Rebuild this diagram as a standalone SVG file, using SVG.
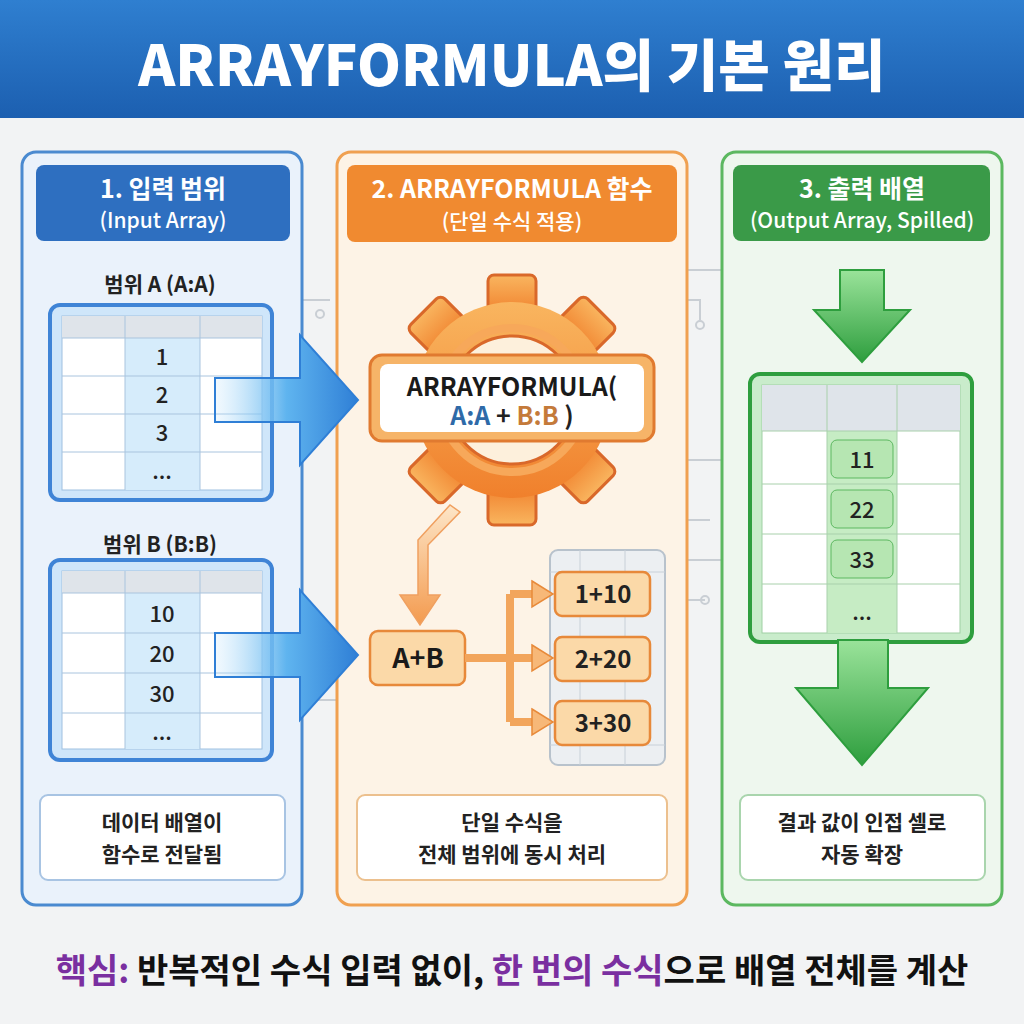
<svg xmlns="http://www.w3.org/2000/svg" width="1024" height="1024" viewBox="0 0 1024 1024">
<defs>
<linearGradient id="hdr" x1="0" y1="0" x2="0" y2="1"><stop offset="0" stop-color="#2f7fd0"/><stop offset="1" stop-color="#1c5fb0"/></linearGradient>
<linearGradient id="blueArr" x1="0" y1="0" x2="1" y2="0"><stop offset="0" stop-color="#bfe3fb" stop-opacity="0.2"/><stop offset="0.5" stop-color="#5fb4ef"/><stop offset="1" stop-color="#2f7fd6"/></linearGradient>
<linearGradient id="greenArr" x1="0" y1="0" x2="0" y2="1"><stop offset="0" stop-color="#9ae39a"/><stop offset="1" stop-color="#2e9e3e"/></linearGradient>
<linearGradient id="gearG" x1="0" y1="0" x2="0" y2="1"><stop offset="0" stop-color="#f9b55f"/><stop offset="1" stop-color="#f0802c"/></linearGradient>
<linearGradient id="orArr" x1="0" y1="0" x2="0" y2="1"><stop offset="0" stop-color="#fde6c8"/><stop offset="1" stop-color="#f39a4e"/></linearGradient>
<style>
text{font-family:"Noto Sans CJK KR","Noto Sans",sans-serif;font-weight:700;text-anchor:middle}
.hd{fill:#fff;font-size:25px}
.hs{fill:#fff;font-size:21px;font-weight:500}
.lbl{font-size:21px;fill:#222}
.cell{font-size:22px;fill:#222;font-weight:500}
.tb{fill:#fff;stroke:#c9d6e3;stroke-width:1}
.note{fill:#fff;stroke-width:2}
.ob{fill:#fbd9a8;stroke:#e7893a;stroke-width:2.5}
.ot{font-size:24px;fill:#222;font-weight:600}
.circ{stroke:#c9ced4;stroke-width:2;fill:none}
</style>
</defs>
<rect width="1024" height="1024" fill="#f2f3f4"/>
<rect width="1024" height="118" fill="url(#hdr)"/>
<text x="512" y="86" style="font-size:56px;fill:#fff;font-weight:800">ARRAYFORMULA의 기본 원리</text>

<g class="circ">
<path d="M302 300 H330 M302 400 H320 M687 270 H722 M687 300 H700 V320 M687 460 H722 M687 520 H710 M687 560 H722 M302 700 H337 M687 600 H705"/>
<circle cx="320" cy="314" r="4"/><circle cx="705" cy="600" r="4"/><circle cx="700" cy="325" r="4"/>
</g>

<g id="panel1">
<rect x="22" y="152" width="280" height="753" rx="14" fill="#eaf2fb" stroke="#4a8ad0" stroke-width="3"/>
<rect x="36" y="165" width="254" height="76" rx="8" fill="#2e6fc0"/>
<text class="hd" x="163" y="198">1. 입력 범위</text>
<text class="hs" x="163" y="228">(Input Array)</text>
<text class="lbl" x="160" y="292">범위 A (A:A)</text>
<text class="lbl" x="160" y="552">범위 B (B:B)</text>
</g>

<g id="tableA">
<rect x="50" y="305" width="222" height="195" rx="10" fill="#cfe6fa" stroke="#3f84d6" stroke-width="4"/>
<rect x="62" y="316" width="200" height="174" fill="#fff" stroke="#9fc0e0"/>
<rect x="62" y="316" width="200" height="22" fill="#dfe4ea"/>
<rect x="125" y="338" width="75" height="152" fill="#d6ecfb"/>
<path d="M125 316 V490 M200 316 V490 M62 338 H262 M62 376 H262 M62 414 H262 M62 452 H262" stroke="#a9c4de" fill="none"/>
<text class="cell" x="162" y="365">1</text><text class="cell" x="162" y="403">2</text><text class="cell" x="162" y="441">3</text><text class="cell" x="162" y="479">...</text>
</g>

<g id="tableB">
<rect x="50" y="560" width="222" height="200" rx="10" fill="#cfe6fa" stroke="#3f84d6" stroke-width="4"/>
<rect x="62" y="571" width="200" height="178" fill="#fff" stroke="#9fc0e0"/>
<rect x="62" y="571" width="200" height="22" fill="#dfe4ea"/>
<rect x="125" y="593" width="75" height="156" fill="#d6ecfb"/>
<path d="M125 571 V749 M200 571 V749 M62 593 H262 M62 633 H262 M62 673 H262 M62 713 H262" stroke="#a9c4de" fill="none"/>
<text class="cell" x="162" y="622">10</text><text class="cell" x="162" y="662">20</text><text class="cell" x="162" y="702">30</text><text class="cell" x="162" y="740">...</text>
</g>

<g id="note1">
<rect class="note" x="40" y="795" width="245" height="85" rx="8" stroke="#a8c4e3"/>
<text class="lbl" x="162" y="830">데이터 배열이</text>
<text class="lbl" x="162" y="862">함수로 전달됨</text>
</g>

<g id="panel2">
<rect x="337" y="152" width="350" height="753" rx="14" fill="#fdf3e6" stroke="#f0a050" stroke-width="3"/>
<rect x="347" y="165" width="330" height="77" rx="8" fill="#f08a30"/>
<text class="hd" x="512" y="198">2. ARRAYFORMULA 함수</text>
<text class="hs" x="512" y="229">(단일 수식 적용)</text>
</g>

<g id="gear">
<g fill="url(#gearG)" stroke="#d9682a" stroke-width="3">
<g transform="translate(512 400)">
<rect x="-24" y="-125" width="48" height="40" rx="6"/>
<rect x="-24" y="-125" width="48" height="40" rx="6" transform="rotate(45)"/>
<rect x="-24" y="-125" width="48" height="40" rx="6" transform="rotate(90)"/>
<rect x="-24" y="-125" width="48" height="40" rx="6" transform="rotate(135)"/>
<rect x="-24" y="-125" width="48" height="40" rx="6" transform="rotate(180)"/>
<rect x="-24" y="-125" width="48" height="40" rx="6" transform="rotate(225)"/>
<rect x="-24" y="-125" width="48" height="40" rx="6" transform="rotate(270)"/>
<rect x="-24" y="-125" width="48" height="40" rx="6" transform="rotate(315)"/>
</g>
<circle cx="512" cy="400" r="98" stroke="none"/>
</g>
<circle cx="512" cy="400" r="64" fill="#fdf0dc" stroke="#d9682a" stroke-width="3"/>
<circle cx="512" cy="400" r="72" fill="none" stroke="#f7a85a" stroke-width="8"/>
<rect x="370" y="355" width="284" height="86" rx="12" fill="#f6b468" stroke="#e07a30" stroke-width="3"/>
<rect x="380" y="364" width="264" height="68" rx="8" fill="#fff"/>
<text x="512" y="396" style="font-size:25px;fill:#1a1a1a;font-weight:600">ARRAYFORMULA(</text>
<text x="512" y="425" style="font-size:25px;font-weight:600"><tspan fill="#2e6aa8">A:A</tspan><tspan fill="#222"> + </tspan><tspan fill="#c47a3a">B:B</tspan><tspan fill="#222"> )</tspan></text>
</g>

<g id="results">
<rect x="550" y="550" width="115" height="215" rx="8" fill="#eceff2" stroke="#b8c2cc" stroke-width="2"/>
<path d="M550 572 H665 M580 550 V765 M625 550 V765 M550 745 H665" stroke="#c8d0d8" fill="none"/>
<g id="r1"><rect class="ob" x="555" y="572" width="95" height="44" rx="7"/><text class="ot" x="603" y="603">1+10</text></g>
<g id="r2"><rect class="ob" x="555" y="637" width="95" height="44" rx="7"/><text class="ot" x="603" y="668">2+20</text></g>
<g id="r3"><rect class="ob" x="555" y="701" width="95" height="44" rx="7"/><text class="ot" x="603" y="732">3+30</text></g>
</g>

<g id="apb"><rect class="ob" x="370" y="631" width="95" height="54" rx="8"/><text x="418" y="668" style="font-size:27px;fill:#1a1a1a">A+B</text></g>

<g id="note2">
<rect class="note" x="357" y="795" width="310" height="85" rx="8" stroke="#ecc08e"/>
<text class="lbl" x="512" y="830">단일 수식을</text>
<text class="lbl" x="512" y="862">전체 범위에 동시 처리</text>
</g>

<g id="panel3">
<rect x="722" y="152" width="280" height="753" rx="14" fill="#eef7ee" stroke="#5cb860" stroke-width="3"/>
<rect x="733" y="165" width="257" height="76" rx="8" fill="#3a9a48"/>
<text class="hd" x="862" y="198">3. 출력 배열</text>
<text class="hs" x="862" y="228">(Output Array, Spilled)</text>
</g>

<g id="tableC">
<rect x="750" y="374" width="222" height="268" rx="10" fill="#c9eccb" stroke="#2e9e3e" stroke-width="4"/>
<rect x="762" y="385" width="198" height="248" fill="#fff" stroke="#9fcfa3"/>
<rect x="762" y="385" width="198" height="46" fill="#dfe4ea"/>
<rect x="827" y="431" width="70" height="202" fill="#c6ecc4"/>
<path d="M827 385 V633 M897 385 V633 M762 431 H960 M762 484 H960 M762 534 H960 M762 584 H960" stroke="#a8d0ab" fill="none"/>
<rect x="831" y="440" width="62" height="38" rx="6" fill="#b6e6b2" stroke="#5cb860"/>
<rect x="831" y="490" width="62" height="38" rx="6" fill="#b6e6b2" stroke="#5cb860"/>
<rect x="831" y="540" width="62" height="38" rx="6" fill="#b6e6b2" stroke="#5cb860"/>
<text class="cell" x="862" y="468">11</text><text class="cell" x="862" y="518">22</text><text class="cell" x="862" y="568">33</text><text class="cell" x="862" y="620">...</text>
</g>

<g id="note3">
<rect class="note" x="740" y="795" width="245" height="85" rx="8" stroke="#a9d5ad"/>
<text class="lbl" x="862" y="830">결과 값이 인접 셀로</text>
<text class="lbl" x="862" y="862">자동 확장</text>
</g>

<g id="connectors">
<path d="M215 378 H300 V335 L358 400 L300 465 V422 H215 Z" fill="url(#blueArr)" stroke="#2f7fd6" stroke-width="2"/>
<path d="M215 633 H300 V590 L358 655 L300 720 V677 H215 Z" fill="url(#blueArr)" stroke="#2f7fd6" stroke-width="2"/>
<path d="M840 270 H884 V310 H910 L862 362 L814 310 H840 Z" fill="url(#greenArr)" stroke="#2e9e3e" stroke-width="2"/>
<path d="M838 640 H888 V688 H928 L862 765 L796 688 H838 Z" fill="url(#greenArr)" stroke="#2e9e3e" stroke-width="2"/>
<path d="M450 505 L418 540 V595 H400 L420 625 L440 595 H428 V545 L460 512 Z" fill="url(#orArr)" stroke="#f0a060" stroke-width="1.5"/>
<g fill="none" stroke="#f2a55c" stroke-width="8" stroke-linejoin="round">
<path d="M465 658 H510 M510 594 V722 M510 594 H535 M510 658 H535 M510 722 H535"/>
</g>
<g fill="#f7b878" stroke="#e88a3a" stroke-width="1.5">
<path d="M532 581 L553 594 L532 607 Z"/><path d="M532 645 L553 658 L532 671 Z"/><path d="M532 709 L553 722 L532 735 Z"/>
</g>
</g>

<text x="512" y="983" style="font-size:34px;fill:#111"><tspan fill="#7a2fa0">핵심:</tspan> 반복적인 수식 입력 없이, <tspan fill="#7a2fa0">한 번의 수식</tspan>으로 배열 전체를 계산</text>
</svg>
